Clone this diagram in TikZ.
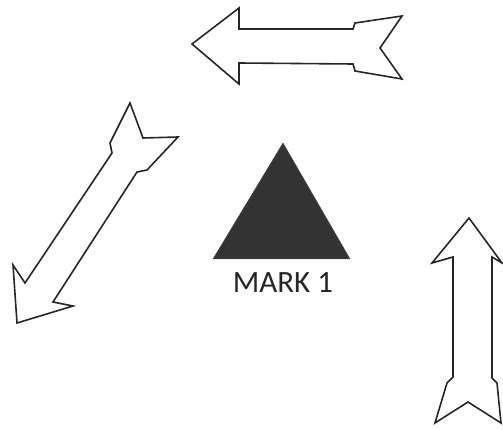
\documentclass[tikz,border=0pt]{standalone}
\usepackage{fontspec}
\setmainfont{Carlito}
\usetikzlibrary{positioning}

\begin{document}
\begin{tikzpicture}[x=1pt,y=-1pt,line join=miter,
  every node/.style={font=\fontsize{31}{32}\selectfont},
  bigarrow/.style={draw=black!85,line width=1.6pt,fill=white},
  markshape/.style={fill=black!80,draw=black!70,line width=0.5pt}]
\useasboundingbox (0,0) rectangle (503,430);
% top arrow, pointing left
\draw[bigarrow] (192,44) -- (239,8) -- (239,29) -- (353,29) -- (355,23)
  -- (402,16) -- (380,48) -- (402,79) -- (355,71) -- (353,64)
  -- (239,63) -- (239,84) -- cycle;
% left arrow, pointing down-left
\draw[bigarrow] (17,323) -- (13,265) -- (25,283) -- (112,153) -- (110,143)
  -- (130,103) -- (143,138) -- (178,137) -- (147,170) -- (137,172)
  -- (53,302) -- (73,306) -- cycle;
% right arrow, pointing up
\draw[bigarrow] (469,218) -- (502,263) -- (492,257) -- (492,378) -- (497,383)
  -- (501,423) -- (468,402) -- (435,423) -- (447,383) -- (453,377)
  -- (453,257) -- (432,263) -- cycle;
% the mark
\draw[markshape] (283,143) -- (350,259) -- (213,259) -- cycle;
\coordinate (base) at (283,259);
\node[below=13pt of base,inner sep=0pt,text=black!85] (label) {MARK 1};
\end{tikzpicture}
\end{document}
